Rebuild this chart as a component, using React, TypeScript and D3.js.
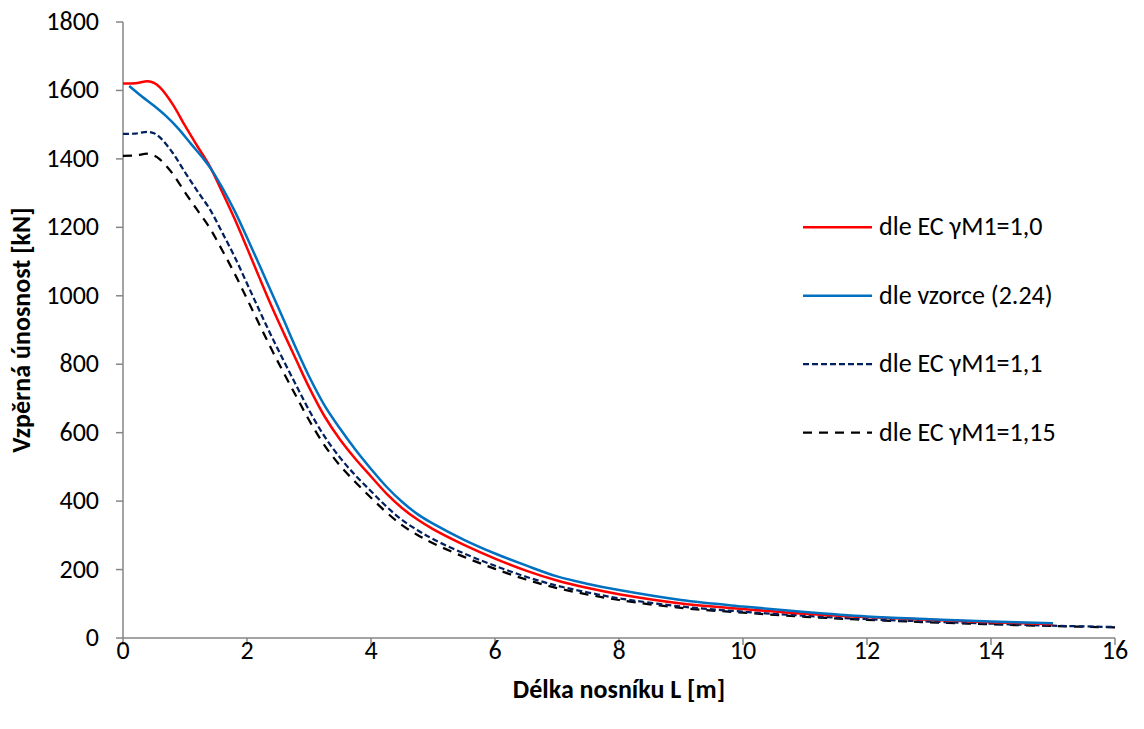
import React from "react";
import * as d3 from "d3";

// Délka nosníku L [m] and buckling resistance [kN]
const ecX = [0, 0.2, 0.4, 0.5, 0.6, 0.8, 1.0, 1.2, 1.4, 1.6, 1.8, 2.0, 2.2, 2.4, 2.6, 2.8, 3.0, 3.25, 3.5, 3.75, 4.0, 4.25, 4.5, 4.75, 5.0, 5.5, 6.0, 6.5, 7, 7.5, 8, 9, 10, 11, 12, 13, 14, 15];
const ecGamma10 = [1620, 1621, 1627, 1622, 1608, 1560, 1497, 1437, 1378, 1303, 1225, 1140, 1053, 968, 888, 810, 733, 648, 580, 523, 472, 422, 380, 346, 318, 272, 232, 197, 168, 146, 128, 101, 85, 71, 61, 53, 46, 40];

const vzorecX = [0.1, 0.3, 0.5, 0.7, 0.9, 1.1, 1.3, 1.43, 1.6, 1.8, 2.0, 2.2, 2.4, 2.6, 2.8, 3.0, 3.25, 3.5, 3.75, 4.0, 4.25, 4.5, 4.75, 5, 5.5, 6, 6.5, 7, 7.5, 8, 9, 10, 11, 12, 13, 14, 15];
const vzorec = [1613, 1583, 1555, 1524, 1487, 1443, 1400, 1368, 1316, 1248, 1170, 1090, 1008, 926, 843, 765, 680, 612, 550, 494, 442, 398, 362, 334, 287, 247, 212, 180, 158, 140, 111, 92, 76, 63, 55, 48, 43];

const ecDashX = [0, 0.2, 0.4, 0.5, 0.6, 0.8, 1.0, 1.2, 1.4, 1.6, 1.8, 2.0, 2.2, 2.4, 2.6, 2.8, 3.0, 3.25, 3.5, 3.75, 4.0, 4.25, 4.5, 4.75, 5.0, 5.5, 6.0, 6.5, 7, 7.5, 8, 9, 10, 11, 12, 13, 14, 15, 16];
const ecGamma11 = [1473, 1474, 1479, 1475, 1462, 1418, 1361, 1306, 1253, 1185, 1114, 1036, 957, 880, 807, 736, 666, 589, 527, 475, 429, 384, 345, 315, 289, 247, 211, 179, 153, 133, 116, 92, 77, 65, 55, 48, 42, 36, 32];
const ecGamma115 = [1409, 1410, 1415, 1410, 1398, 1357, 1302, 1250, 1198, 1133, 1065, 991, 916, 842, 772, 704, 637, 563, 504, 455, 410, 367, 330, 301, 277, 237, 202, 171, 146, 127, 111, 88, 74, 62, 53, 46, 40, 35, 31];

const xTicks = [0, 2, 4, 6, 8, 10, 12, 14, 16];
const yTicks = [0, 200, 400, 600, 800, 1000, 1200, 1400, 1600, 1800];

const seriesNames = ["dle EC γM1=1,0", "dle vzorce (2.24)", "dle EC γM1=1,1", "dle EC γM1=1,15"];
const legendLevels = [1200, 1000, 800, 600];

const W = 1144;
const H = 729;
const FONT = "Carlito, Calibri, Lato, 'Open Sans', sans-serif";
const FS = 26;

export default function App() {
  const x = d3.scaleLinear().domain([0, 16]).range([123, 1115]);
  const y = d3.scaleLinear().domain([0, 1800]).range([638, 22]);
  const line = d3
    .line<[number, number]>()
    .x((d) => x(d[0]))
    .y((d) => y(d[1]))
    .curve(d3.curveCatmullRom.alpha(0.5));

  const zip = (xs: number[], ys: number[]) => xs.map((v, i) => [v, ys[i]] as [number, number]);

  const series = [
    { name: seriesNames[0], d: zip(ecX, ecGamma10), color: "#FF0000", dash: undefined as string | undefined, w: 2.5 },
    { name: seriesNames[1], d: zip(vzorecX, vzorec), color: "#0070C0", dash: undefined, w: 2.5 },
    { name: seriesNames[2], d: zip(ecDashX, ecGamma11), color: "#002060", dash: "6,3", w: 2.25 },
    { name: seriesNames[3], d: zip(ecDashX, ecGamma115), color: "#000000", dash: "9,7", w: 2.25 },
  ];
  const drawOrder = [3, 2, 0, 1];
  const axisColor = "#868686";

  return (
    <svg
      width={W}
      height={H}
      style={{ position: "absolute", left: 0, top: 0, background: "#fff" }}
      fontFamily={FONT}
    >
      <rect x={0} y={0} width={W} height={H} fill="#fff" />
      {/* axes */}
      <line x1={x(0)} x2={x(16)} y1={y(0)} y2={y(0)} stroke={axisColor} strokeWidth={1.5} />
      <line x1={x(0)} x2={x(0)} y1={y(0)} y2={y(1800)} stroke={axisColor} strokeWidth={1.5} />
      {xTicks.map((t) => (
        <g key={"xt" + t}>
          <line x1={x(t)} x2={x(t)} y1={y(0)} y2={y(0) + 7} stroke={axisColor} strokeWidth={1.5} />
          <text x={x(t)} y={y(0) + 21} textAnchor="middle" fontSize={FS} fill="#000">
            {t}
          </text>
        </g>
      ))}
      {yTicks.map((t) => (
        <g key={"yt" + t}>
          <line x1={x(0) - 7} x2={x(0)} y1={y(t)} y2={y(t)} stroke={axisColor} strokeWidth={1.5} />
          <text x={x(0) - 24} y={y(t) + 8} textAnchor="end" fontSize={FS} fill="#000">
            {t}
          </text>
        </g>
      ))}
      {/* axis titles */}
      <text x={619} y={698} textAnchor="middle" fontSize={FS} fontWeight="bold" fill="#000">
        Délka nosníku L [m]
      </text>
      <text
        transform={`translate(30,330) rotate(-90)`}
        textAnchor="middle"
        fontSize={FS}
        fontWeight="bold"
        fill="#000"
      >
        Vzpěrná únosnost [kN]
      </text>
      {/* series */}
      {drawOrder.map((i) => {
        const s = series[i];
        return (
          <path
            key={s.name}
            d={line(s.d) || ""}
            fill="none"
            stroke={s.color}
            strokeWidth={s.w}
            strokeDasharray={s.dash}
            strokeLinejoin="round"
          />
        );
      })}
      {/* legend */}
      {series.map((s, i) => (
        <g key={"lg" + i}>
          <line
            x1={803}
            x2={872}
            y1={y(legendLevels[i])}
            y2={y(legendLevels[i])}
            stroke={s.color}
            strokeWidth={s.w}
            strokeDasharray={s.dash}
          />
          <text x={879} y={y(legendLevels[i]) + 8} fontSize={FS} fill="#000">
            {s.name}
          </text>
        </g>
      ))}
    </svg>
  );
}
